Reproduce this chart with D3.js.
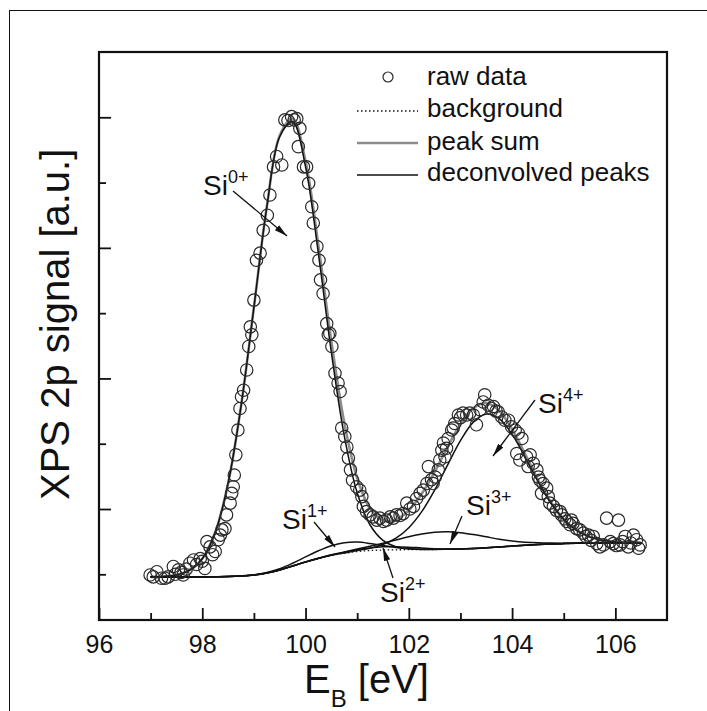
<!DOCTYPE html>
<html>
<head>
<meta charset="utf-8">
<script src="https://cdn.jsdelivr.net/npm/d3@7"></script>
<style>
  html, body { margin: 0; padding: 0; background: #fff; }
  svg { display: block; }
  text { font-family: "Liberation Sans", Arial, Helvetica, sans-serif; fill: #111; }
</style>
</head>
<body>
<svg id="chart" width="707" height="711"></svg>
<script>
// ---------- data ----------
const xTickLabels = [96, 98, 100, 102, 104, 106];
const xMinorTicks = [97, 99, 101, 103, 105];
const yMajorTicks = [2, 4, 6, 8];
const yMinorTicks = [1, 3, 5, 7];

// energy grid of the fitted curves [eV]
const fitEnergy = [97.0, 97.25, 97.5, 97.75, 98.0, 98.25, 98.5, 98.75, 99.0, 99.25,
  99.5, 99.75, 100.0, 100.25, 100.5, 100.75, 101.0, 101.25, 101.5, 101.75,
  102.0, 102.25, 102.5, 102.75, 103.0, 103.25, 103.5, 103.75, 104.0, 104.25,
  104.5, 104.75, 105.0, 105.25, 105.5, 105.75, 106.0, 106.25, 106.5];

const background = [0.959, 0.959, 0.959, 0.959, 0.959, 0.962, 0.966, 0.974, 0.989, 1.020,
  1.066, 1.127, 1.188, 1.242, 1.288, 1.322, 1.349, 1.364, 1.372, 1.375,
  1.377, 1.378, 1.380, 1.383, 1.387, 1.395, 1.406, 1.418, 1.432, 1.444,
  1.455, 1.464, 1.470, 1.475, 1.478, 1.479, 1.479, 1.479, 1.479];

// deconvolved peaks (height above background)
const peakSi0 = [0.002, 0.008, 0.031, 0.100, 0.279, 0.678, 1.426, 2.597, 4.098, 5.603,
  6.636, 6.810, 6.054, 4.663, 3.111, 1.799, 0.901, 0.391, 0.147, 0.048,
  0.014, 0.003, 0, 0, 0, 0, 0, 0, 0, 0, 0, 0, 0, 0, 0, 0, 0, 0, 0];
const peakSi1 = [0, 0, 0, 0, 0, 0, 0, 0.001, 0.003, 0.008,
  0.020, 0.043, 0.078, 0.118, 0.150, 0.160, 0.144, 0.108, 0.069, 0.037,
  0.016, 0.006, 0.002, 0.0005, 0, 0, 0, 0, 0, 0, 0, 0, 0, 0, 0, 0, 0, 0, 0];
const peakSi2 = [0, 0, 0, 0, 0, 0, 0, 0, 0, 0,
  0, 0, 0.0007, 0.0025, 0.0068, 0.0152, 0.0276, 0.0408, 0.0492, 0.0482,
  0.0384, 0.0249, 0.0131, 0.0056, 0.002, 0.0005, 0, 0, 0, 0, 0, 0, 0, 0, 0, 0, 0, 0, 0];
const peakSi3 = [0, 0, 0, 0, 0, 0, 0, 0, 0, 0,
  0, 0.0007, 0.0019, 0.0047, 0.0104, 0.0211, 0.0392, 0.0669, 0.1047, 0.1503,
  0.1979, 0.2390, 0.2647, 0.2688, 0.2504, 0.2139, 0.1676, 0.1204, 0.0794, 0.0480,
  0.0266, 0.0135, 0.0063, 0.0027, 0.0011, 0.0004, 0, 0, 0];
const peakSi4 = [0, 0, 0, 0, 0, 0, 0, 0, 0, 0,
  0, 0, 0, 0.0005, 0.0017, 0.0051, 0.0144, 0.0366, 0.0846, 0.1773,
  0.3372, 0.5814, 0.9094, 1.2901, 1.6597, 1.9364, 2.0494, 1.9670, 1.7124, 1.3520,
  0.9680, 0.6287, 0.3702, 0.1978, 0.0959, 0.0421, 0.0168, 0.0061, 0.0020];

// raw data points
const rawEnergy = [96.99, 97.05, 97.12, 97.21, 97.28, 97.34, 97.44, 97.48, 97.54, 97.59,
  97.63, 97.69, 97.76, 97.83, 97.89, 97.96, 98.00, 98.05, 98.09, 98.15,
  98.20, 98.25, 98.31, 98.35, 98.38, 98.44, 98.47, 98.54, 98.57, 98.60,
  98.62, 98.65, 98.69, 98.73, 98.76, 98.80, 98.86, 98.90, 98.93, 98.96,
  99.00, 99.05, 99.12, 99.18, 99.26, 99.31, 99.38, 99.44, 99.54, 99.60,
  99.66, 99.73, 99.78, 99.83, 99.86, 99.89, 99.96, 100.02, 100.06, 100.12,
  100.15, 100.22, 100.26, 100.29, 100.34, 100.41, 100.44, 100.47, 100.51, 100.57,
  100.63, 100.67, 100.70, 100.76, 100.80, 100.83, 100.87, 100.91, 100.99, 101.05,
  101.09, 101.12, 101.18, 101.25, 101.31, 101.38, 101.44, 101.51, 101.57, 101.64,
  101.70, 101.76, 101.83, 101.89, 101.96, 102.02, 102.09, 102.15, 102.22, 102.28,
  102.35, 102.38, 102.44, 102.47, 102.51, 102.57, 102.60, 102.64, 102.67, 102.70,
  102.73, 102.76, 102.83, 102.86, 102.89, 102.96, 103.00, 103.05, 103.12, 103.18,
  103.25, 103.31, 103.38, 103.44, 103.47, 103.54, 103.60, 103.64, 103.69, 103.73,
  103.80, 103.86, 103.93, 103.99, 104.06, 104.09, 104.12, 104.15, 104.19, 104.28,
  104.31, 104.35, 104.41, 104.48, 104.51, 104.54, 104.57, 104.60, 104.67, 104.70,
  104.73, 104.80, 104.86, 104.93, 104.96, 105.02, 105.06, 105.12, 105.15, 105.18,
  105.25, 105.31, 105.38, 105.43, 105.48, 105.53, 105.57, 105.64, 105.70, 105.77,
  105.83, 105.90, 105.96, 106.02, 106.06, 106.09, 106.14, 106.19, 106.25, 106.30,
  106.35, 106.41, 106.45, 106.48];
const rawSignal = [0.99, 0.96, 1.04, 0.94, 0.94, 0.96, 1.12, 1.00, 1.07, 1.03,
  0.99, 1.08, 1.17, 1.22, 1.15, 1.24, 1.20, 1.09, 1.50, 1.42,
  1.30, 1.35, 1.53, 1.60, 1.68, 1.70, 1.91, 2.09, 2.24, 2.34,
  2.52, 2.83, 3.21, 3.54, 3.72, 3.82, 4.13, 4.49, 4.79, 4.67,
  5.20, 5.81, 5.92, 6.27, 6.50, 6.81, 7.24, 7.40, 7.27, 7.96,
  7.95, 8.01, 7.96, 7.98, 7.55, 7.83, 7.24, 7.24, 6.99, 6.63,
  6.38, 6.02, 5.81, 5.51, 5.30, 4.84, 4.67, 4.69, 4.49, 4.08,
  3.93, 3.80, 3.24, 3.11, 2.95, 2.78, 2.60, 2.44, 2.34, 2.29,
  2.19, 2.04, 1.96, 1.91, 1.88, 1.83, 1.86, 1.81, 1.83, 1.88,
  1.86, 1.91, 1.90, 1.93, 2.09, 2.00, 2.04, 2.16, 2.24, 2.29,
  2.39, 2.65, 2.45, 2.39, 2.49, 2.60, 2.75, 2.90, 3.01, 2.80,
  2.93, 3.08, 3.21, 3.24, 3.31, 3.44, 3.40, 3.47, 3.44, 3.47,
  3.44, 3.29, 3.52, 3.64, 3.75, 3.59, 3.54, 3.57, 3.50, 3.49,
  3.41, 3.36, 3.36, 3.26, 3.21, 2.85, 3.16, 2.75, 3.08, 2.80,
  2.65, 2.83, 2.70, 2.60, 2.49, 2.44, 2.24, 2.39, 2.32, 2.19,
  2.09, 2.04, 1.98, 1.96, 1.91, 1.85, 1.81, 1.76, 1.83, 1.78,
  1.70, 1.68, 1.63, 1.58, 1.60, 1.52, 1.58, 1.47, 1.42, 1.45,
  1.86, 1.50, 1.47, 1.44, 1.83, 1.45, 1.50, 1.58, 1.42, 1.48,
  1.60, 1.53, 1.40, 1.45];

const legendLabels = ["raw data", "background", "peak sum", "deconvolved peaks"];
const peakLabels = [
  { name: "Si", sup: "0+" }, { name: "Si", sup: "1+" }, { name: "Si", sup: "2+" },
  { name: "Si", sup: "3+" }, { name: "Si", sup: "4+" }];

// ---------- drawing ----------
const svg = d3.select("#chart");
const margin = { left: 99, right: 667, top: 52, bottom: 620 };
const x = d3.scaleLinear().domain([96, 107]).range([margin.left, margin.right]);
const y = d3.scaleLinear().domain([0.3, 9.0]).range([margin.bottom, margin.top]);

// outer frame
svg.append("rect").attr("x", 9.5).attr("y", 10.5).attr("width", 800).attr("height", 800)
  .attr("fill", "none").attr("stroke", "#111").attr("stroke-width", 1);

const defs = svg.append("defs");
defs.append("marker").attr("id", "arrow").attr("markerUnits", "userSpaceOnUse")
  .attr("markerWidth", 13).attr("markerHeight", 8).attr("refX", 13).attr("refY", 4)
  .attr("orient", "auto")
  .append("path").attr("d", "M0,0.8 L13,4 L0,7.2 Z").attr("fill", "#111");

const peaks = [peakSi0, peakSi1, peakSi2, peakSi3, peakSi4];
const bgPts = fitEnergy.map((e, i) => [e, background[i]]);
const sumPts = fitEnergy.map((e, i) => [e, background[i] + peaks.reduce((s, p) => s + p[i], 0)]);
const peakPts = peaks.map(p => fitEnergy.map((e, i) => [e, background[i] + p[i]]));

const line = d3.line().x(d => x(d[0])).y(d => y(d[1])).curve(d3.curveCatmullRom.alpha(0.5));

const plot = svg.append("g");
plot.append("path").datum(bgPts).attr("d", line).attr("fill", "none")
  .attr("stroke", "#111").attr("stroke-width", 1.3).attr("stroke-dasharray", "1.5,2.5");
plot.append("path").datum(sumPts).attr("d", line).attr("fill", "none")
  .attr("stroke", "#8c8c8c").attr("stroke-width", 2.6);
peakPts.forEach(pts => {
  plot.append("path").datum(pts).attr("d", line).attr("fill", "none")
    .attr("stroke", "#111").attr("stroke-width", 1.5);
});

plot.selectAll("circle.raw").data(rawEnergy.map((e, i) => [e, rawSignal[i]]))
  .enter().append("circle").attr("class", "raw")
  .attr("cx", d => x(d[0])).attr("cy", d => y(d[1])).attr("r", 6.2)
  .attr("fill", "none").attr("stroke", "#2a2a2a").attr("stroke-width", 1.2);

// axes (ticks pointing inward)
const axisStyle = g => {
  g.select(".domain").remove();
  g.selectAll(".tick line").attr("stroke", "#111").attr("stroke-width", 1.8);
  g.selectAll("text").attr("font-size", 25).attr("fill", "#111")
    .attr("font-family", "'Liberation Sans', Arial, sans-serif");
};
svg.append("g").attr("transform", `translate(0,${margin.bottom})`)
  .call(d3.axisBottom(x).tickValues(xTickLabels).tickSize(-12).tickPadding(15).tickFormat(d3.format("d")))
  .call(axisStyle);
svg.append("g").attr("transform", `translate(0,${margin.bottom})`)
  .call(d3.axisBottom(x).tickValues(xMinorTicks).tickSize(-7).tickFormat(""))
  .call(axisStyle);
svg.append("g").attr("transform", `translate(${margin.left},0)`)
  .call(d3.axisLeft(y).tickValues(yMajorTicks).tickSize(-12).tickFormat(""))
  .call(axisStyle);
svg.append("g").attr("transform", `translate(${margin.left},0)`)
  .call(d3.axisLeft(y).tickValues(yMinorTicks).tickSize(-7).tickFormat(""))
  .call(axisStyle);

// plot frame
svg.append("rect").attr("x", margin.left).attr("y", margin.top)
  .attr("width", margin.right - margin.left).attr("height", margin.bottom - margin.top)
  .attr("fill", "none").attr("stroke", "#111").attr("stroke-width", 2.2);

// axis titles
const xt = svg.append("text").attr("x", 304).attr("y", 693).attr("font-size", 40);
xt.append("tspan").text("E");
xt.append("tspan").attr("font-size", 24).attr("dy", 14).text("B");
xt.append("tspan").attr("dy", -14).text(" [eV]");

svg.append("text").attr("transform", "translate(69,500) rotate(-90)")
  .attr("font-size", 40).text("XPS 2p signal [a.u.]");

// legend
const lg = svg.append("g");
const lgLineX0 = 357, lgLineX1 = 418, lgTextX = 427;
const lgRows = [85, 117, 150, 181];
lg.append("circle").attr("cx", 388).attr("cy", 77).attr("r", 5)
  .attr("fill", "none").attr("stroke", "#2a2a2a").attr("stroke-width", 1.2);
lg.append("line").attr("x1", lgLineX0).attr("x2", lgLineX1).attr("y1", 111).attr("y2", 111)
  .attr("stroke", "#111").attr("stroke-width", 1.3).attr("stroke-dasharray", "1.5,2.5");
lg.append("line").attr("x1", lgLineX0).attr("x2", lgLineX1).attr("y1", 143).attr("y2", 143)
  .attr("stroke", "#8c8c8c").attr("stroke-width", 2.6);
lg.append("line").attr("x1", lgLineX0).attr("x2", lgLineX1).attr("y1", 175).attr("y2", 175)
  .attr("stroke", "#111").attr("stroke-width", 1.5);
legendLabels.forEach((t, i) => {
  lg.append("text").attr("x", lgTextX).attr("y", lgRows[i]).attr("font-size", 26).text(t);
});

// peak labels with arrows
const labelPos = [
  { tx: 203, ty: 195, a: [233, 191, 287, 236] },
  { tx: 282, ty: 529, a: [314, 522, 335, 547] },
  { tx: 380, ty: 602, a: [393, 578, 383, 548] },
  { tx: 466, ty: 515, a: [462, 516, 450, 544] },
  { tx: 538, ty: 413, a: [535, 400, 493, 456] }];
peakLabels.forEach((p, i) => {
  const pos = labelPos[i];
  const t = svg.append("text").attr("x", pos.tx).attr("y", pos.ty).attr("font-size", 28);
  t.append("tspan").text(p.name);
  t.append("tspan").attr("font-size", 18).attr("dy", -12).text(p.sup);
  svg.append("line").attr("x1", pos.a[0]).attr("y1", pos.a[1]).attr("x2", pos.a[2]).attr("y2", pos.a[3])
    .attr("stroke", "#111").attr("stroke-width", 1.3).attr("marker-end", "url(#arrow)");
});
</script>
</body>
</html>
